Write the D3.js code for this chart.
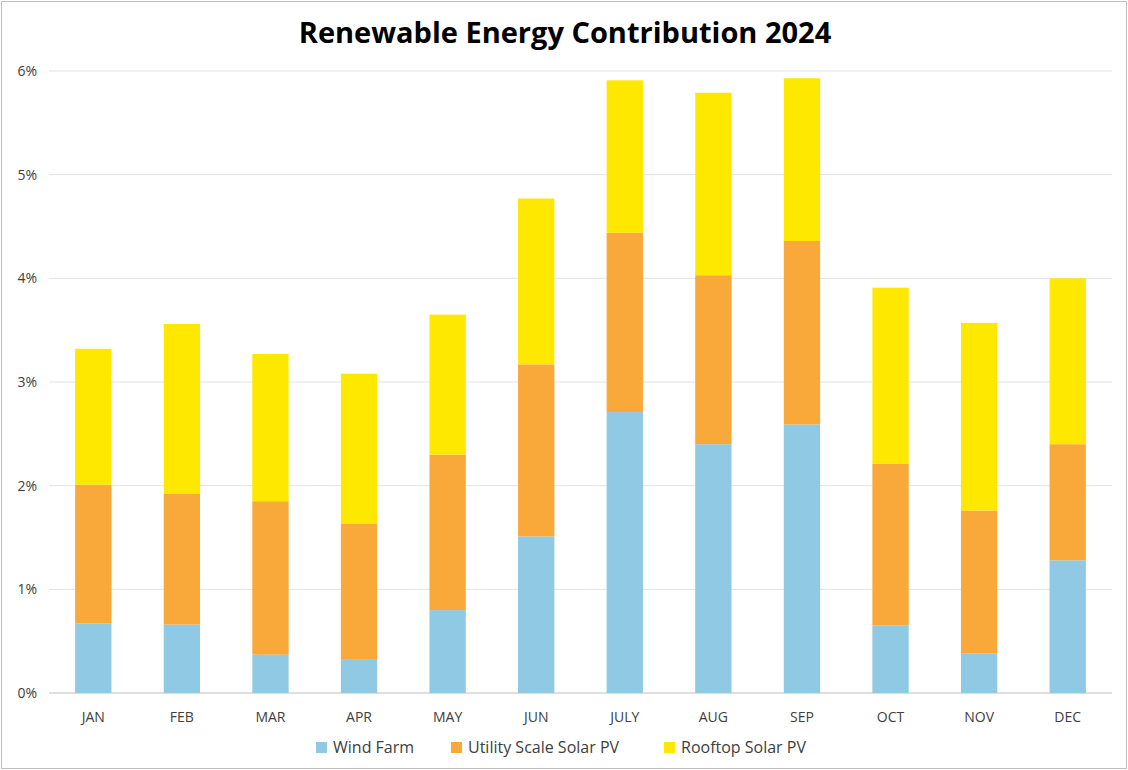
<!DOCTYPE html>
<html>
<head>
<meta charset="utf-8">
<script src="https://cdn.jsdelivr.net/npm/d3@7"></script>
<style>
  body { margin: 0; background: #fff; font-family: "Open Sans", "Liberation Sans", sans-serif; }
</style>
</head>
<body>
<svg id="chart"></svg>
<script>
// Chart data (percent)
const months = ['JAN', 'FEB', 'MAR', 'APR', 'MAY', 'JUN', 'JULY', 'AUG', 'SEP', 'OCT', 'NOV', 'DEC'];
const windFarm = [0.67, 0.66, 0.37, 0.32, 0.80, 1.51, 2.71, 2.40, 2.59, 0.65, 0.38, 1.28];
const utilitySolar = [1.34, 1.26, 1.48, 1.31, 1.50, 1.66, 1.73, 1.63, 1.77, 1.56, 1.38, 1.12];
const rooftopSolar = [1.31, 1.64, 1.42, 1.45, 1.35, 1.60, 1.47, 1.76, 1.57, 1.70, 1.81, 1.60];
const seriesNames = ['Wind Farm', 'Utility Scale Solar PV', 'Rooftop Solar PV'];
const yTicks = [0, 1, 2, 3, 4, 5, 6];

const width = 1128, height = 770;
const margin = { top: 71, right: 16, bottom: 77, left: 49 };
const colors = ['#8fc9e4', '#f9a83a', '#ffe800'];

const svg = d3.select('#chart').attr('width', width).attr('height', height);

// Outer border
svg.append('rect')
    .attr('x', 1.5).attr('y', 1.5)
    .attr('width', width - 3).attr('height', height - 3)
    .attr('fill', 'none').attr('stroke', '#bfbfbf');

svg.append('text')
    .attr('x', width / 2 + 1).attr('y', 43)
    .attr('text-anchor', 'middle')
    .attr('font-size', 29).attr('font-weight', 'bold')
    .attr('fill', '#000')
    .text('Renewable Energy Contribution 2024');

const x = d3.scaleBand()
    .domain(months)
    .range([margin.left, width - margin.right])
    .paddingInner(0.59).paddingOuter(0.295);

const y = d3.scaleLinear()
    .domain([0, 6])
    .range([height - margin.bottom, margin.top]);

// Gridlines
svg.append('g')
    .selectAll('line')
    .data(yTicks)
    .enter()
    .append('line')
    .attr('x1', margin.left).attr('x2', width - margin.right)
    .attr('y1', d => y(d)).attr('y2', d => y(d))
    .attr('stroke', d => d === 0 ? '#bfbfbf' : '#e3e3e3');

// Y labels
svg.append('g')
    .selectAll('text')
    .data(yTicks)
    .enter()
    .append('text')
    .attr('x', margin.left - 12).attr('y', d => y(d) + 5)
    .attr('text-anchor', 'end')
    .attr('font-size', 14).attr('fill', '#404040')
    .text(d => d + '%');

// Stack
const table = months.map((m, i) => ({
    month: m,
    s0: windFarm[i], s1: utilitySolar[i], s2: rooftopSolar[i]
}));
const stack = d3.stack().keys(['s0', 's1', 's2'])(table);

svg.append('g')
    .selectAll('g')
    .data(stack)
    .enter()
    .append('g')
    .attr('fill', (d, i) => colors[i])
    .selectAll('rect')
    .data(d => d)
    .enter()
    .append('rect')
    .attr('x', d => x(d.data.month))
    .attr('width', x.bandwidth())
    .attr('y', d => y(d[1]))
    .attr('height', d => y(d[0]) - y(d[1]));

// X labels
svg.append('g')
    .selectAll('text')
    .data(months)
    .enter()
    .append('text')
    .attr('x', d => x(d) + x.bandwidth() / 2)
    .attr('y', height - margin.bottom + 29)
    .attr('text-anchor', 'middle')
    .attr('font-size', 14).attr('fill', '#404040')
    .text(d => d);

// Legend
const legendX = [316, 451, 664];
const legend = svg.append('g')
    .selectAll('g')
    .data(seriesNames)
    .enter()
    .append('g')
    .attr('transform', (d, i) => `translate(${legendX[i]},748)`);
legend.append('rect')
    .attr('x', 0).attr('y', -6)
    .attr('width', 11).attr('height', 11)
    .attr('fill', (d, i) => colors[i]);
legend.append('text')
    .attr('x', 17).attr('y', 5)
    .attr('font-size', 16).attr('fill', '#404040')
    .text(d => d);
</script>
</body>
</html>
